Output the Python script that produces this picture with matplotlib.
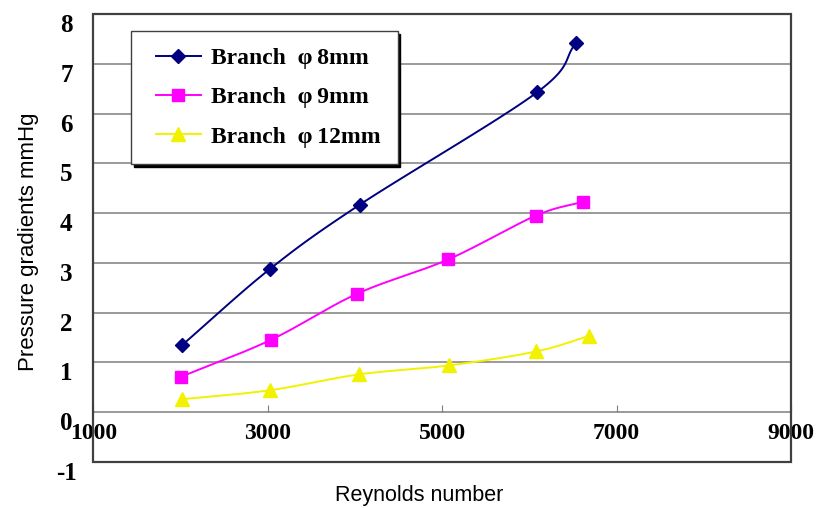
import numpy as np
import matplotlib
matplotlib.use('Agg')
import matplotlib.pyplot as plt
from matplotlib.patches import Rectangle
from matplotlib.transforms import ScaledTranslation
from matplotlib.legend_handler import HandlerLine2D

plt.rcParams['axes.unicode_minus'] = False

# Reynolds number / pressure gradient readings
re_8mm = [2014, 3026, 4055, 6090, 6534]
dp_8mm = [1.345, 2.88, 4.17, 6.43, 7.42]

re_9mm = [2002, 3031, 4024, 5070, 6075, 6617]
dp_9mm = [0.71, 1.45, 2.38, 3.07, 3.95, 4.23]

re_12mm = [2010, 3020, 4047, 5077, 6076, 6683]
dp_12mm = [0.26, 0.44, 0.76, 0.94, 1.22, 1.53]

labels = ['Branch  \u03c6\u20098mm', 'Branch  \u03c6\u20099mm', 'Branch  \u03c6\u200912mm']
x_ticks = [1000, 3000, 5000, 7000, 9000]
y_ticks = list(range(-1, 9))


def smooth(x, y, n=30):
    # excel-style smoothed line (catmull-rom through the points)
    x = np.asarray(x, float)
    y = np.asarray(y, float)
    px = np.concatenate([[2 * x[0] - x[1]], x, [2 * x[-1] - x[-2]]])
    py = np.concatenate([[2 * y[0] - y[1]], y, [2 * y[-1] - y[-2]]])
    xs, ys = [], []
    t = np.linspace(0, 1, n)
    for i in range(1, len(px) - 2):
        for p, out in ((px, xs), (py, ys)):
            p0, p1, p2, p3 = p[i - 1], p[i], p[i + 1], p[i + 2]
            out.extend(0.5 * ((2 * p1) + (-p0 + p2) * t
                              + (2 * p0 - 5 * p1 + 4 * p2 - p3) * t ** 2
                              + (-p0 + 3 * p1 - 3 * p2 + p3) * t ** 3))
    return xs, ys


serif = 'Liberation Serif'
sans = 'Liberation Sans'

fig = plt.figure(figsize=(8.17, 5.08), dpi=100)
ax = fig.add_axes([0.1144, 0.0906, 0.8537, 0.8818])

ax.set_xlim(1000, 9000)
ax.set_ylim(-1, 8)

for y in range(1, 8):
    ax.axhline(y, color='#7f7f7f', lw=1.1, zorder=0)

series = [
    (re_8mm, dp_8mm, '#000080', 'D', 7),
    (re_9mm, dp_9mm, '#ff00ff', 's', 8),
    (re_12mm, dp_12mm, '#f2f200', '^', 9.5),
]
handles = []
for (xv, yv, col, mk, ms), lab in zip(series, labels):
    sx, sy = smooth(xv, yv)
    ax.plot(sx, sy, color=col, lw=1.4, zorder=2)
    ax.plot(xv, yv, ls='none', marker=mk, ms=ms, color=col, zorder=3)
    h, = ax.plot([], [], color=col, lw=1.4, marker=mk, ms=ms)
    handles.append(h)

# x axis crosses at zero, frame drawn separately
for s in ax.spines.values():
    s.set_visible(False)
ax.spines['bottom'].set_visible(True)
ax.spines['bottom'].set_position(('data', 0))
ax.spines['bottom'].set_color('#7f7f7f')
ax.spines['bottom'].set_linewidth(1.1)
ax.add_patch(Rectangle((0, 0), 1, 1, transform=ax.transAxes, fill=False,
                       ec='#404040', lw=1.6, zorder=5, clip_on=False))

ax.set_xticks(x_ticks)
ax.set_yticks(y_ticks)
ax.tick_params(axis='x', direction='in', length=5, color='#7f7f7f', pad=8)
ax.tick_params(axis='y', length=0, pad=19.5)
for lab in ax.get_xticklabels():
    lab.set_fontfamily(serif)
    lab.set_fontweight('bold')
    lab.set_fontsize(17)
shift = ScaledTranslation(0, -0.09, fig.dpi_scale_trans)
for lab in ax.get_yticklabels():
    lab.set_fontfamily(serif)
    lab.set_fontweight('bold')
    lab.set_fontsize(18)
    lab.set_horizontalalignment('center')
    lab.set_transform(lab.get_transform() + shift)

ax.set_xlabel('Reynolds number', fontfamily=sans, fontsize=15.5)
ax.xaxis.set_label_coords(0.467, -0.051)
ax.set_ylabel('Pressure gradients mmHg', fontfamily=sans, fontsize=16)
ax.yaxis.set_label_coords(-0.078, 0.491)

leg = ax.legend(handles, labels, loc='upper left', bbox_to_anchor=(0.054, 0.962),
                borderaxespad=0,
                prop={'family': serif, 'weight': 'bold', 'size': 17},
                frameon=True, fancybox=False, edgecolor='#404040',
                shadow={'color': 'black', 'alpha': 1},
                handlelength=2.25, labelspacing=0.75, borderpad=0.7,
                handletextpad=0.45,
                handler_map={h: HandlerLine2D(xpad=0.35) for h in handles})
leg.get_frame().set_linewidth(1.0)

fig.savefig('out.png', dpi=100)
